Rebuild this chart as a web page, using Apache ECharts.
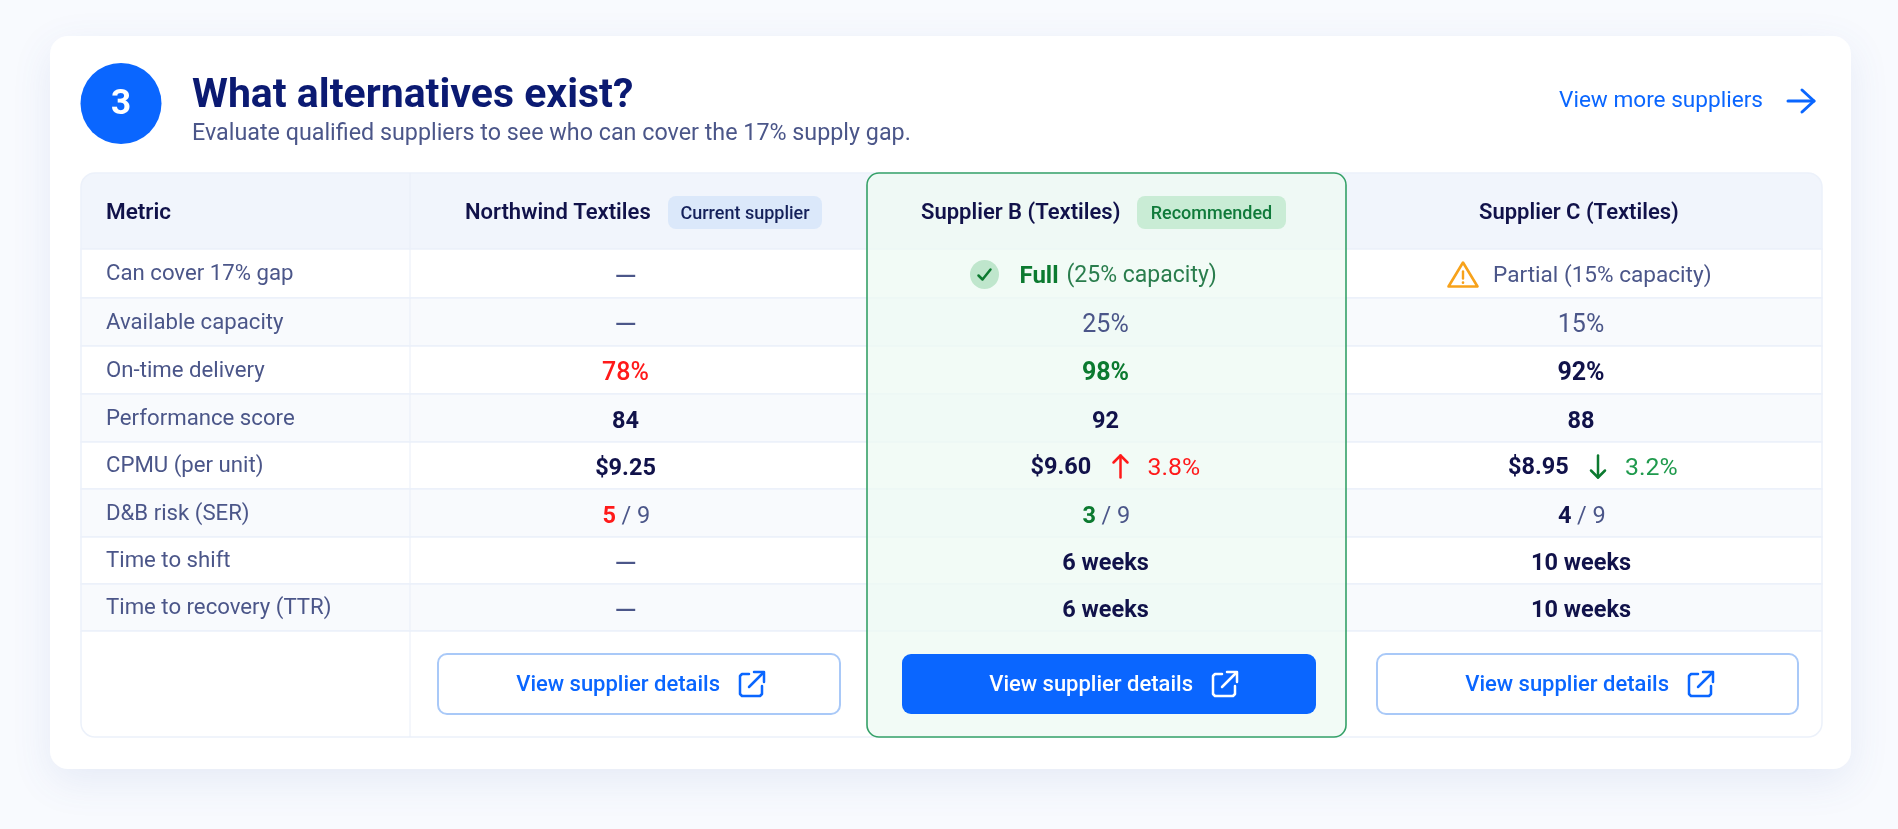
<!DOCTYPE html>
<html lang="en">
<head>
<meta charset="UTF-8">
<title>What alternatives exist?</title>
<script src="https://cdn.jsdelivr.net/npm/echarts@6/dist/echarts.min.js"></script>
<style>
  html, body { margin: 0; padding: 0; background: #f8fafe; }
  #chart { width: 1898px; height: 829px; }
</style>
</head>
<body>
<div id="chart"></div>
<script>
// ---- data
const metrics = ['Can cover 17% gap', 'Available capacity', 'On-time delivery', 'Performance score',
  'CPMU (per unit)', 'D&B risk (SER)', 'Time to shift', 'Time to recovery (TTR)'];
const suppliers = ['Northwind Textiles', 'Supplier B (Textiles)', 'Supplier C (Textiles)'];
const supplierBadges = ['Current supplier', 'Recommended', ''];
const coverStatus = [null, 'Full', 'Partial'];
const coverCapacity = [null, 25, 15];
const availableCapacity = [null, 25, 15];
const onTimeDelivery = [78, 98, 92];
const performanceScore = [84, 92, 88];
const cpmu = [9.25, 9.60, 8.95];
const cpmuChange = [null, 3.8, -3.2];
const dnbRisk = [5, 3, 4];
const dnbRiskMax = 9;
const timeToShift = [null, 6, 10];
const timeToRecovery = [null, 6, 10];

// ---- look
const FONT = 'Roboto, sans-serif';
const BLUE = '#0a66ff', NAVY = '#11124a', SLATE = '#4b5689', RED = '#ff1a1a', GREEN = '#0c7a30';
const colSizes = [329, 457, 479, 476];
const rowSizes = [76, 49, 48, 48, 48, 47, 48, 47, 47, 106];
const textShift = [0, -13, -1, -3];      // values are not quite centred in their columns
const buttonInset = [0, [28, 27], [35, 30], [31, 24]];
const buttonIconRight = [0, 100, 103, 109];

function txt(x, y, text, size, weight, fill, align) {
  return { type: 'text', x: x, y: y, style: {
    text: text, fontFamily: FONT, fontSize: size, fontWeight: weight, fill: fill,
    textAlign: align || 'center', textVerticalAlign: 'middle' } };
}
function stroke(points, color, width) {
  return { type: 'polyline', shape: { points: points },
    style: { stroke: color, lineWidth: width, fill: null, lineCap: 'round', lineJoin: 'round' } };
}
function rectOf(api, c, r) { return api.layout([c, r]).rect; }

// ---- what goes in each cell
function cellRuns(col, row) {
  const i = col - 1;
  if (row === 0) {
    if (col === 0) return [{ left: 25, text: 'Metric', size: 22.5, weight: 600, fill: NAVY, dy: 2 }];
    return [];
  }
  if (col === 0) return [{ left: 25, text: metrics[row - 1], size: 22.2, weight: 400, fill: SLATE, dy: 1 }];
  const dash = [{ text: '—', size: 29, weight: 400, fill: SLATE, dy: 5 }];
  const strong = (t, fill, size) => [{ text: t, size: size || 23.5, weight: 700, fill: fill || NAVY, dy: 4 }];
  switch (row) {
    case 1: return coverStatus[i] === null ? dash : [];
    case 2: return availableCapacity[i] === null ? dash
      : [{ text: availableCapacity[i] + '%', size: 25, weight: 400, fill: SLATE, dy: 4 }];
    case 3: return i === 0 ? [{ text: onTimeDelivery[i] + '%', size: 25, weight: 500, fill: RED, dy: 4 }]
      : strong(onTimeDelivery[i] + '%', [RED, GREEN, NAVY][i], 25);
    case 4: return strong(String(performanceScore[i]));
    case 5: return cpmuChange[i] === null ? strong('$' + cpmu[i].toFixed(2)) : [];
    case 6: return [
      { dx: -23, align: 'left', text: String(dnbRisk[i]), size: 23.5, weight: 700, fill: [RED, GREEN, NAVY][i], dy: 4 },
      { dx: -4, align: 'left', text: '/ ' + dnbRiskMax, size: 23.5, weight: 400, fill: SLATE, dy: 4 }];
    case 7: return timeToShift[i] === null ? dash : strong(timeToShift[i] + ' weeks');
    case 8: return timeToRecovery[i] === null ? dash : strong(timeToRecovery[i] + ' weeks');
  }
  return [];
}

const rowCells = rowSizes.map((_, r) => [0, r]);
const recommendedCell = [[2, 0]];
const textCells = [];
for (let c = 0; c < 4; c++) for (let r = 0; r < 9; r++) textCells.push([c, r]);
const headCells = suppliers.map((_, i) => [i + 1, 0]);
const specialCells = [[2, 1], [3, 1], [2, 5], [3, 5]];
const buttonCells = suppliers.map((_, i) => [i + 1, 9]);

const option = {
  backgroundColor: '#f8fafe',
  animation: false,
  title: {
    text: 'What alternatives exist?', left: 192, top: 76, padding: 0, itemGap: 6,
    textStyle: { fontFamily: FONT, fontSize: 41, fontWeight: 700, color: '#0b1a72' },
    subtext: 'Evaluate qualified suppliers to see who can cover the 17% supply gap.',
    subtextStyle: { fontFamily: FONT, fontSize: 23.3, color: SLATE }
  },
  matrix: {
    left: 81, top: 173, width: 1741, height: 564,
    x: { show: false, data: colSizes.map((s, i) => ({ value: i === 0 ? 'Metric' : suppliers[i - 1], size: s })) },
    y: { show: false, data: rowSizes.map((s, i) => ({ value: i === 0 ? 'Header' : (metrics[i - 1] || 'Actions'), size: s })) },
    body: { itemStyle: { color: 'transparent', borderWidth: 0 }, splitLine: { show: false } },
    corner: { itemStyle: { borderWidth: 0 } },
    backgroundStyle: { color: 'transparent', borderWidth: 0 }
  },
  graphic: [
    { type: 'rect', z: -5, shape: { x: 50, y: 36, width: 1801, height: 733, r: 18 },
      style: { fill: '#fff', shadowBlur: 40, shadowOffsetY: 12, shadowColor: 'rgba(70,100,180,0.10)' } },
    { type: 'circle', shape: { cx: 121, cy: 103.5, r: 40.5 }, style: { fill: BLUE } },
    { type: 'text', x: 121, y: 105, style: { text: '3', fontFamily: FONT, fontSize: 35, fontWeight: 700, fill: '#fff', textAlign: 'center', textVerticalAlign: 'middle' } },
    { type: 'text', x: 1559, y: 101, style: { text: 'View more suppliers', fontFamily: FONT, fontSize: 22.6, fill: BLUE, textAlign: 'left', textVerticalAlign: 'middle' } },
    { type: 'polyline', shape: { points: [[1788, 101], [1814, 101]] }, style: { stroke: BLUE, lineWidth: 3, lineCap: 'round' } },
    { type: 'polyline', shape: { points: [[1802, 90], [1814, 101], [1802, 112]] }, style: { stroke: BLUE, lineWidth: 3, fill: null, lineCap: 'round', lineJoin: 'round' } }
  ],
  series: [
    { // row stripes and table lines
      type: 'custom', coordinateSystem: 'matrix', z: 2, silent: true, data: rowCells,
      renderItem: function (params, api) {
        const r = params.dataIndex;
        const a = rectOf(api, 0, r), b = rectOf(api, 3, r);
        const w = b.x + b.width - a.x;
        const fill = r === 0 ? '#f1f5fc' : (r < 9 && r % 2 === 0 ? '#f8fafd' : '#ffffff');
        const radius = r === 0 ? [14, 14, 0, 0] : (r === 9 ? [0, 0, 14, 14] : 0);
        const kids = [{ type: 'rect', shape: { x: a.x, y: a.y, width: w, height: a.height, r: radius },
          style: { fill: fill, stroke: '#ecf1fa', lineWidth: 1.5 } }];
        if (r < 9) kids.push({ type: 'line', shape: { x1: a.x, y1: a.y + a.height, x2: a.x + w, y2: a.y + a.height },
          style: { stroke: '#edf2fa', lineWidth: 2 } });
        kids.push({ type: 'line', shape: { x1: a.x + a.width, y1: a.y, x2: a.x + a.width, y2: a.y + a.height },
          style: { stroke: '#e9eef8', lineWidth: 1 } });
        return { type: 'group', children: kids };
      }
    },
    { // highlight of the recommended supplier column
      type: 'custom', coordinateSystem: 'matrix', z: 3, silent: true, data: recommendedCell,
      renderItem: function (params, api) {
        const a = rectOf(api, 2, 0), b = rectOf(api, 2, 9);
        return { type: 'rect', shape: { x: a.x, y: a.y, width: a.width, height: b.y + b.height - a.y, r: 12 },
          style: { fill: 'rgba(238,249,243,0.75)', stroke: '#35a168', lineWidth: 1.6 } };
      }
    },
    { // plain text cells
      type: 'custom', coordinateSystem: 'matrix', z: 5, silent: true, data: textCells,
      renderItem: function (params, api) {
        const [c, r] = textCells[params.dataIndex];
        const R = rectOf(api, c, r);
        const cx = R.x + R.width / 2 + textShift[c], cy = R.y + R.height / 2;
        const kids = cellRuns(c, r).map(function (t) {
          if (t.left !== undefined) return txt(R.x + t.left, cy + (t.dy || 0), t.text, t.size, t.weight, t.fill, 'left');
          return txt(cx + (t.dx || 0), cy + (t.dy || 0), t.text, t.size, t.weight, t.fill, t.align);
        });
        return { type: 'group', children: kids };
      }
    },
    { // supplier names with their badges
      type: 'custom', coordinateSystem: 'matrix', z: 5, silent: true, data: headCells,
      renderItem: function (params, api) {
        const i = params.dataIndex;
        const R = rectOf(api, i + 1, 0);
        const cy = R.y + R.height / 2 + 1;
        const nameLeft = [55, 54, 133][i];
        const kids = [txt(R.x + nameLeft, cy + 1, suppliers[i], 22, 600, NAVY, 'left')];
        if (supplierBadges[i]) {
          const bx = [258, 270][i], bw = [154, 149][i];
          kids.push({ type: 'rect', shape: { x: R.x + bx, y: cy - 16, width: bw, height: 33, r: 8 },
            style: { fill: ['#dbe8fa', '#c9ecd5'][i] } });
          kids.push(txt(R.x + bx + bw / 2, cy + 2, supplierBadges[i], 18, 500, ['#14205a', '#0f7a3a'][i]));
        }
        return { type: 'group', children: kids };
      }
    },
    { // cells with an icon next to the text
      type: 'custom', coordinateSystem: 'matrix', z: 5, silent: true, data: specialCells,
      renderItem: function (params, api) {
        const [c, r] = specialCells[params.dataIndex];
        const i = c - 1;
        const R = rectOf(api, c, r);
        const cx = R.x + R.width / 2, cy = R.y + R.height / 2 + 1;
        const kids = [];
        if (r === 1 && c === 2) {
          const ix = cx - 122;
          kids.push({ type: 'circle', shape: { cx: ix, cy: cy, r: 14.5 }, style: { fill: '#bfe6cc' } });
          kids.push(stroke([[ix - 6, cy + 1], [ix - 2, cy + 5], [ix + 6, cy - 5]], GREEN, 2.5));
          kids.push(txt(cx - 87, cy + 2, coverStatus[i], 24, 700, GREEN, 'left'));
          kids.push(txt(cx - 40, cy + 2, '(' + coverCapacity[i] + '% capacity)', 23, 400, '#2a7d4d', 'left'));
        } else if (r === 1) {
          const ix = cx - 121;
          kids.push({ type: 'polygon', shape: { points: [[ix, cy - 12], [ix + 14.5, cy + 12], [ix - 14.5, cy + 12]] },
            style: { fill: null, stroke: '#f7a21b', lineWidth: 2.6, lineJoin: 'round' } });
          kids.push(stroke([[ix, cy - 3], [ix, cy + 4]], '#f7a21b', 2.4));
          kids.push(stroke([[ix, cy + 8], [ix, cy + 8.2]], '#f7a21b', 2.6));
          kids.push(txt(cx - 91, cy + 2, coverStatus[i] + ' (' + coverCapacity[i] + '% capacity)', 22.6, 400, SLATE, 'left'));
        } else {
          const up = cpmuChange[i] > 0;
          const col = up ? RED : GREEN;
          const ax = cx + 14;
          kids.push(txt(cx - 76, cy + 2, '$' + cpmu[i].toFixed(2), 23.5, 700, NAVY, 'left'));
          if (up) {
            kids.push(stroke([[ax, cy + 11], [ax, cy - 11]], col, 2.5));
            kids.push(stroke([[ax - 7, cy - 4], [ax, cy - 11], [ax + 7, cy - 4]], col, 2.5));
          } else {
            kids.push(stroke([[ax, cy - 11], [ax, cy + 11]], col, 2.5));
            kids.push(stroke([[ax - 7, cy + 4], [ax, cy + 11], [ax + 7, cy + 4]], col, 2.5));
          }
          kids.push(txt(cx + 41, cy + 2, Math.abs(cpmuChange[i]).toFixed(1) + '%', 24.8, 400, up ? RED : '#1f9a4d', 'left'));
        }
        return { type: 'group', children: kids };
      }
    },
    { // view supplier details buttons
      type: 'custom', coordinateSystem: 'matrix', z: 5, silent: true, data: buttonCells,
      renderItem: function (params, api) {
        const i = params.dataIndex, c = i + 1;
        const R = rectOf(api, c, 9);
        const x = R.x + buttonInset[c][0], w = R.width - buttonInset[c][0] - buttonInset[c][1];
        const y = R.y + 23, h = 60;
        const primary = i === 1;
        const fg = primary ? '#fff' : BLUE;
        const ix = x + w - buttonIconRight[c], iy = y + h / 2 - 12;
        return { type: 'group', children: [
          { type: 'rect', shape: { x: x, y: y, width: w, height: h, r: 9 },
            style: { fill: primary ? BLUE : '#fff', stroke: primary ? BLUE : '#a9c9f8', lineWidth: primary ? 0 : 2 } },
          txt(ix - 20, y + h / 2 + 1, 'View supplier details', 22, 500, fg, 'right'),
          stroke([[ix + 9, iy + 2], [ix + 2, iy + 2], [ix, iy + 4], [ix, iy + 22], [ix + 2, iy + 24], [ix + 20, iy + 24], [ix + 22, iy + 22], [ix + 22, iy + 14]], fg, 2.5),
          stroke([[ix + 9, iy + 15], [ix + 23, iy + 1]], fg, 2.5),
          stroke([[ix + 14, iy], [ix + 24, iy], [ix + 24, iy + 10]], fg, 2.5)
        ] };
      }
    }
  ]
};

const chart = echarts.init(document.getElementById('chart'));
chart.setOption(option);
</script>
</body>
</html>
